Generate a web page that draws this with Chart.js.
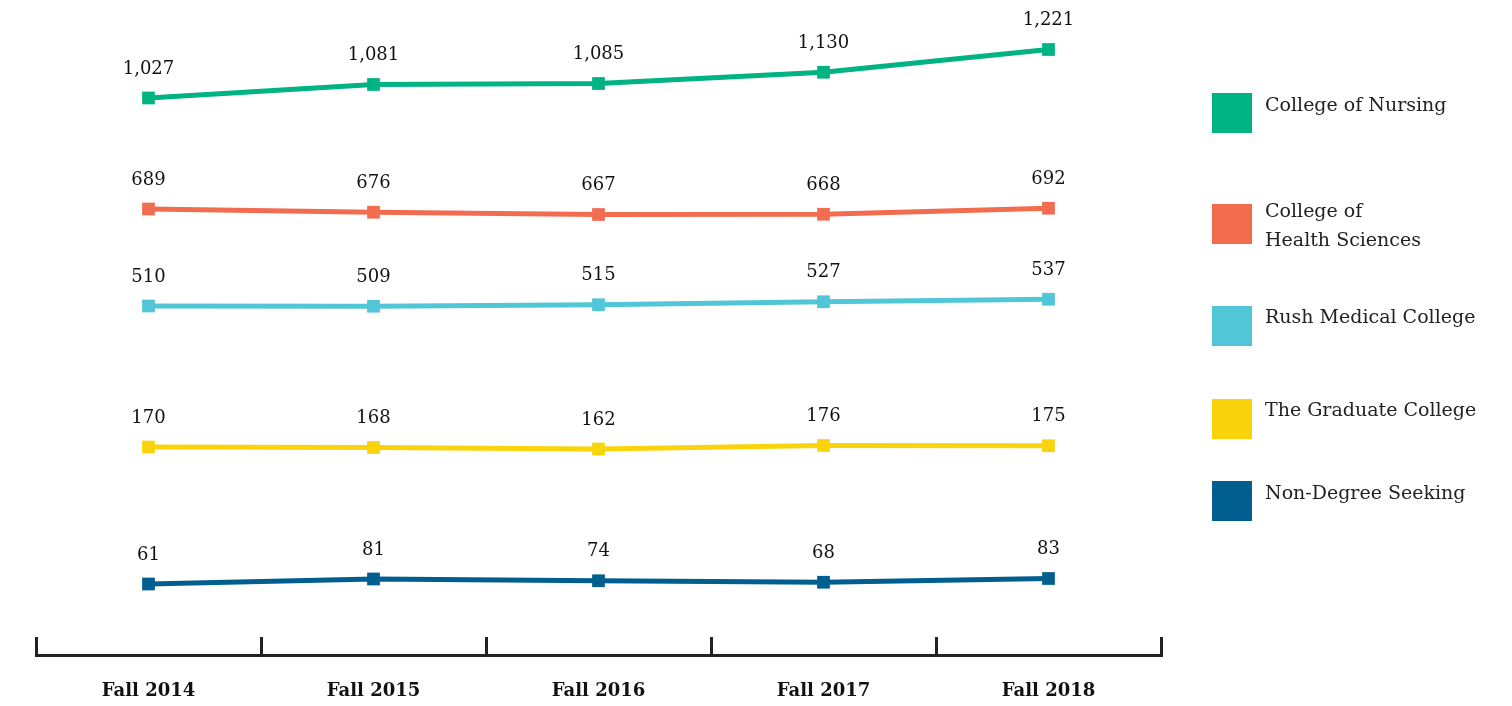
<!DOCTYPE html>
<html>
<head>
<meta charset="utf-8">
<script src="https://cdn.jsdelivr.net/npm/chart.js@4.4.0/dist/chart.umd.min.js"></script>
<style>
body { margin: 0; background: #fff; }
#wrap { position: relative; width: 1512px; height: 706px; }
#legend { position: absolute; left: 1212px; top: 0; font-family: "DejaVu Serif"; font-size: 19px; color: #222; }
.item { position: absolute; left: 0; white-space: nowrap; }
.box { position: absolute; left: 0; top: 0; width: 40px; height: 40px; }
.txt { position: absolute; left: 53px; line-height: 29px; }
</style>
</head>
<body>
<div id="wrap">
  <canvas id="myChart" width="1512" height="706"></canvas>
  <div id="legend"></div>
</div>
<script>
// data
const years = ['Fall 2014', 'Fall 2015', 'Fall 2016', 'Fall 2017', 'Fall 2018'];
const nursing = [1027, 1081, 1085, 1130, 1221];
const healthSciences = [689, 676, 667, 668, 692];
const medical = [510, 509, 515, 527, 537];
const graduate = [170, 168, 162, 176, 175];
const nonDegree = [61, 81, 74, 68, 83];
const seriesNames = [['College of Nursing'], ['College of', 'Health Sciences'], ['Rush Medical College'], ['The Graduate College'], ['Non-Degree Seeking']];

// styling / layout
const colors = ['#00b382', '#f26c50', '#50c6d6', '#f9d40d', '#005f8e'];
const allSeries = [nursing, healthSciences, medical, graduate, nonDegree];
// each series sits in its own band (broken axis); same units-per-pixel for all
const bandFloor = [-1201, -1095, -886, -662, -223];
const bandSpan = 2580;
const legendBoxTop = [93, 204, 306, 399, 481];
const legendTextShift = [-3, -8, -4, -4, -3];

const yScales = {};
allSeries.forEach((s, i) => {
    yScales['y' + i] = { display: false, min: bandFloor[i], max: bandFloor[i] + bandSpan };
});

const valueLabels = {
    id: 'valueLabels',
    afterDatasetsDraw(chart) {
        const ctx = chart.ctx;
        ctx.save();
        ctx.font = '18px "DejaVu Serif"';
        ctx.fillStyle = '#111';
        ctx.textAlign = 'center';
        ctx.textBaseline = 'middle';
        chart.data.datasets.forEach((ds, i) => {
            chart.getDatasetMeta(i).data.forEach((pt, j) => {
                ctx.fillText(ds.data[j].toLocaleString('en-US'), pt.x, pt.y - 29);
            });
        });
        ctx.restore();
    }
};

const ctx = document.getElementById('myChart').getContext('2d');
const chart = new Chart(ctx, {
    type: 'line',
    data: {
        labels: years,
        datasets: allSeries.map((s, i) => ({
            label: seriesNames[i].join(' '),
            data: s,
            yAxisID: 'y' + i,
            borderColor: colors[i],
            backgroundColor: colors[i],
            borderWidth: 5,
            pointStyle: 'rect',
            pointRadius: 9,
            pointBorderWidth: 0,
            pointBackgroundColor: colors[i],
            tension: 0,
            clip: false,
        })),
    },
    options: {
        responsive: false,
        animation: false,
        devicePixelRatio: 1,
        layout: { padding: { left: 36, right: 351, top: 10, bottom: 0 } },
        plugins: { legend: { display: false }, tooltip: { enabled: false } },
        scales: Object.assign({
            x: {
                offset: true,
                grid: { offset: true, drawOnChartArea: false, drawTicks: true, tickLength: -18, lineWidth: 3, color: '#222' },
                border: { display: true, width: 3, color: '#222' },
                ticks: { padding: 44, color: '#111', font: { family: 'DejaVu Serif', size: 18, weight: 'bold' } },
                afterFit: (scale) => { scale.height = 51; },
            },
        }, yScales),
    },
    plugins: [valueLabels],
});

// legend
const legend = document.getElementById('legend');
seriesNames.forEach((name, i) => {
    const item = document.createElement('div');
    item.className = 'item';
    item.style.top = legendBoxTop[i] + 'px';
    item.innerHTML = '<div class="box" style="background:' + colors[i] + '"></div>' +
        '<div class="txt" style="top:' + legendTextShift[i] + 'px">' + name.join('<br>') + '</div>';
    legend.appendChild(item);
});
</script>
</body>
</html>
